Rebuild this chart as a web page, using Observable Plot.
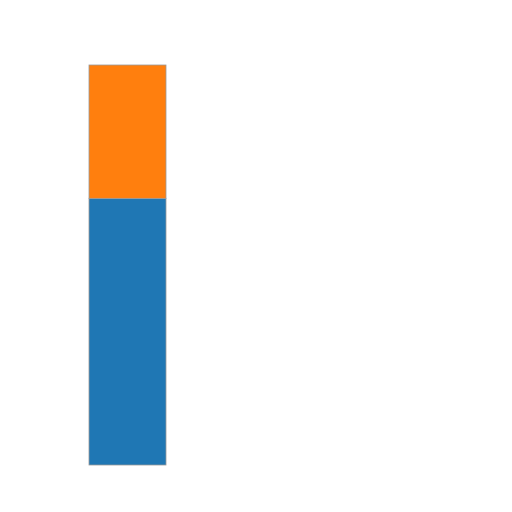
<!DOCTYPE html>
<html>
<head>
<meta charset="utf-8">
<script src="https://cdn.jsdelivr.net/npm/d3@7"></script>
<script src="https://cdn.jsdelivr.net/npm/@observablehq/plot@0.6"></script>
<style>
  html, body { margin: 0; padding: 0; background: #fff; }
</style>
</head>
<body>
<div id="chart"></div>
<script>
const categories = ["A"];
const seriesNames = ["Series 1", "Series 2"];
const seriesValues = [2, 1];
const colors = ["#1f77b4", "#ff7f0e"];

const data = seriesNames.map((s, i) => ({ cat: categories[0], series: s, value: seriesValues[i] }));

const chart = Plot.plot({
  width: 512,
  height: 512,
  marginTop: 65,
  marginBottom: 47,
  marginLeft: 89,
  marginRight: 346,
  x: { domain: categories, padding: 0, axis: null },
  y: { domain: [0, 3], axis: null },
  color: { type: "ordinal", domain: seriesNames, range: colors },
  marks: [
    Plot.barY(data, {
      x: "cat",
      y: "value",
      fill: "series",
      stroke: "#9a9a9a",
      strokeWidth: 0.8,
      inset: 0
    })
  ]
});
document.getElementById("chart").appendChild(chart);
</script>
</body>
</html>
